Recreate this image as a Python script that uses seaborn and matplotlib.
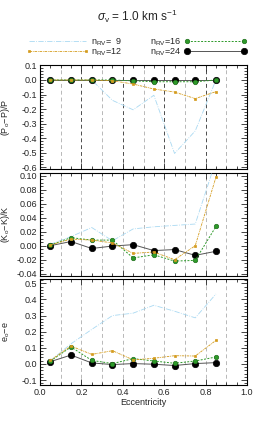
import numpy as np
import pandas as pd
import matplotlib
matplotlib.use("Agg")
import matplotlib.pyplot as plt
from matplotlib.ticker import MultipleLocator
import seaborn as sns

# data
ecc = [0.05, 0.15, 0.25, 0.35, 0.45, 0.55, 0.65, 0.75, 0.85]
labels = ["9", "12", "16", "24"]

dP_9 = [0.0, 0.0, 0.0, -0.14, -0.205, -0.105, -0.505, -0.35, 0.0]
dP_12 = [0.0, 0.0, 0.0, -0.005, -0.028, -0.062, -0.083, -0.128, -0.08]
dP_16 = [0.0, 0.0, 0.0, 0.0, -0.006, -0.012, -0.012, -0.012, 0.0]
dP_24 = [0.0, 0.0, 0.0, 0.0, 0.0, 0.0, 0.0, 0.0, 0.0]

dK_9 = [0.002, 0.013, 0.026, 0.007, 0.024, 0.027, 0.029, 0.031, 0.122]
dK_12 = [0.001, 0.0095, 0.008, 0.004, -0.011, -0.009, -0.02, 0.0, 0.098]
dK_16 = [0.001, 0.0115, 0.008, 0.008, -0.0175, -0.013, -0.022, -0.021, 0.0275]
dK_24 = [0.0, 0.006, -0.004, -0.0005, 0.0015, -0.007, -0.0055, -0.0138, -0.008]

de_9 = [0.02, 0.125, 0.214, 0.30, 0.315, 0.364, 0.327, 0.286, 0.434]
de_12 = [0.022, 0.111, 0.059, 0.082, 0.025, 0.035, 0.051, 0.049, 0.146]
de_16 = [0.018, 0.105, 0.022, 0.002, 0.033, 0.018, 0.004, 0.018, 0.043]
de_24 = [0.014, 0.055, 0.006, -0.004, 0.002, -0.002, -0.01, 0.002, 0.008]

sns.set_style("ticks")
plt.rcParams["font.family"] = ["Liberation Sans", "DejaVu Sans"]
plt.rcParams["mathtext.fontset"] = "custom"
plt.rcParams["mathtext.rm"] = "Liberation Sans"
plt.rcParams["mathtext.it"] = "Liberation Sans:italic"
plt.rcParams["mathtext.sf"] = "Liberation Sans"
plt.rcParams["axes.linewidth"] = 0.8

# style per series (green drawn over black, orange over green)
styles = {
    "9": dict(color="#a9d9f2", ls="-.", lw=0.6, marker=None, ms=0, mec=None),
    "12": dict(color="#d49b1c", ls=(0, (3, 1, 1, 1)), lw=0.6, marker="s", ms=2.0, mec="#d49b1c"),
    "16": dict(color="#2e9a2a", ls=(0, (2, 1.5)), lw=0.7, marker="o", ms=3.2, mec="#1d6e1a"),
    "24": dict(color="#555555", ls="-", lw=0.7, marker="o", ms=4.6, mec="black"),
}
draw_order = ["9", "24", "16", "12"]

fig = plt.figure(figsize=(2.74, 4.26), dpi=100)
left, width = 40 / 274, 207 / 274
ax1 = fig.add_axes([left, 0.6026, width, 0.2448])
ax2 = fig.add_axes([left, 0.351, width, 0.243])
ax3 = fig.add_axes([left, 0.0962, width, 0.25])

panels = [
    (ax1, {"9": dP_9, "12": dP_12, "16": dP_16, "24": dP_24}, (-0.614, 0.103), 0.1, 0.02, "(P$_{\\mathrm{o}}$\u2212P)/P", "%.1f"),
    (ax2, {"9": dK_9, "12": dK_12, "16": dK_16, "24": dK_24}, (-0.044, 0.104), 0.02, 0.005, "(K$_{\\mathrm{o}}$\u2212K)/K", "%.2f"),
    (ax3, {"9": de_9, "12": de_12, "16": de_16, "24": de_24}, (-0.131, 0.53), 0.1, 0.02, "e$_{\\mathrm{o}}$\u2212e", "%.1f"),
]

handles = {}
for i, (ax, series, ylim, major, minor, ylab, fmt) in enumerate(panels):
    # vertical dashed guide lines
    for xv in np.arange(0.1, 0.95, 0.1):
        dark = i == 0 and round(xv * 10) % 2 == 0
        ax.axvline(xv, color="0.3" if dark else "0.72", ls=(0, (4, 3)), lw=0.7, zorder=0)
    for key in draw_order:
        st = styles[key]
        df = pd.DataFrame({"ecc": ecc, "val": series[key]})
        sns.lineplot(data=df, x="ecc", y="val", ax=ax, color=st["color"], linestyle=st["ls"],
                     lw=st["lw"], marker=st["marker"], markersize=st["ms"],
                     markeredgecolor=st["mec"], markeredgewidth=0.5,
                     markerfacecolor="black" if key == "24" else st["color"], zorder=3)
        handles[key] = ax.lines[-1]
    ax.set_xlim(0, 1.0)
    ax.set_ylim(*ylim)
    ax.xaxis.set_major_locator(MultipleLocator(0.2))
    ax.xaxis.set_minor_locator(MultipleLocator(0.05))
    ax.yaxis.set_major_locator(MultipleLocator(major))
    ax.yaxis.set_minor_locator(MultipleLocator(minor))
    ax.yaxis.set_major_formatter(matplotlib.ticker.FormatStrFormatter(fmt))
    ax.tick_params(which="both", direction="in", top=True, right=True, labelsize=6.5, width=0.6, pad=2)
    ax.tick_params(which="major", length=4)
    ax.tick_params(which="minor", length=2)
    ax.set_ylabel(ylab, fontsize=6.5)
    ax.yaxis.set_label_coords(-0.135, 0.5)
    ax.set_xlabel("")
    if i < 2:
        ax.set_xticklabels([])
    for sp in ax.spines.values():
        sp.set_color("black")

ax3.set_xlabel("Eccentricity", fontsize=6.5, labelpad=1)

fig.text(0.5, 0.962, "$\\sigma_{\\mathrm{v}}$ = 1.0 km s$^{-1}$", ha="center", va="center", fontsize=8.5)

lab = {k: "n$_{\\mathrm{RV}}$=%s" % ("\u2007" + k if k == "9" else k) for k in labels}
leg_kw = dict(frameon=False, fontsize=6.5, handlelength=7.0, handletextpad=0.25,
              labelspacing=-0.1, borderpad=0, borderaxespad=0, numpoints=2)
leg1 = fig.legend([handles["9"], handles["12"]], [lab["9"], lab["12"]], loc="upper left",
                  bbox_to_anchor=(26 / 274, 1 - 36 / 426), **leg_kw)
leg2 = fig.legend([handles["16"], handles["24"]], [lab["16"], lab["24"]], loc="upper right",
                  bbox_to_anchor=(247 / 274, 1 - 36 / 426), markerfirst=False, **leg_kw)

fig.savefig("out.png", dpi=100)
